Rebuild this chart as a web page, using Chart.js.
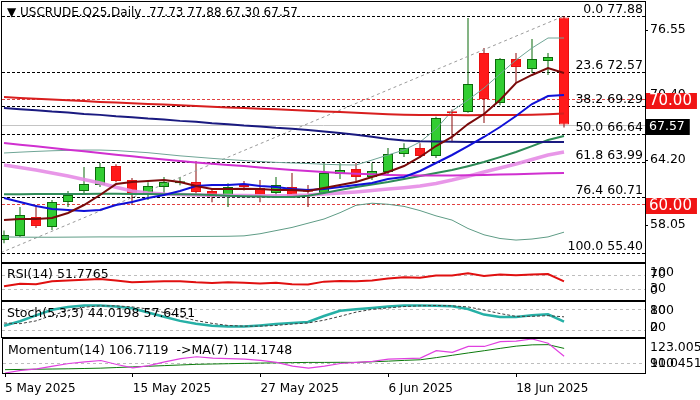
<!DOCTYPE html>
<html>
<head>
<meta charset="utf-8">
<script src="https://cdn.jsdelivr.net/npm/chart.js@4.4.1/dist/chart.umd.min.js"></script>
<style>
  html, body { margin: 0; padding: 0; background: #fff; }
  #wrap { position: relative; width: 700px; height: 400px; overflow: hidden; }
  .pane { position: absolute; left: 0; width: 700px; }
</style>
</head>
<body>
<div id="wrap">
  <div class="pane" style="top:0;height:263px"><canvas id="cMain"></canvas></div>
  <div class="pane" style="top:263px;height:38px"><canvas id="cRsi"></canvas></div>
  <div class="pane" style="top:301px;height:37px"><canvas id="cStoch"></canvas></div>
  <div class="pane" style="top:338px;height:62px"><canvas id="cMom"></canvas></div>
</div>
<script>
// daily bars, 5 May 2025 .. 23 Jun 2025
const dates = ["5 May 2025", "6 May 2025", "7 May 2025", "8 May 2025", "9 May 2025", "12 May 2025",
  "13 May 2025", "14 May 2025", "15 May 2025", "16 May 2025", "19 May 2025", "20 May 2025",
  "21 May 2025", "22 May 2025", "23 May 2025", "26 May 2025", "27 May 2025", "28 May 2025",
  "29 May 2025", "30 May 2025", "2 Jun 2025", "3 Jun 2025", "4 Jun 2025", "5 Jun 2025",
  "6 Jun 2025", "9 Jun 2025", "10 Jun 2025", "11 Jun 2025", "12 Jun 2025", "13 Jun 2025",
  "16 Jun 2025", "17 Jun 2025", "18 Jun 2025", "19 Jun 2025", "20 Jun 2025", "23 Jun 2025"];
const dateTicks = [0, 8, 16, 24, 32];

const opens  = [56.61, 56.99, 58.79, 57.84, 60.22, 61.26, 61.83, 63.63, 62.31, 61.02, 61.64, 62.00,
  62.11, 61.26, 60.69, 61.75, 61.55, 61.07, 61.64, 61.35, 61.07, 62.87, 63.35, 62.59,
  63.06, 64.77, 65.34, 64.58, 68.75, 68.76, 74.37, 69.62, 73.80, 72.85, 73.61, 77.73];
const highs  = [57.50, 59.74, 59.93, 60.40, 61.26, 63.54, 63.92, 63.80, 62.50, 62.10, 62.60, 62.60,
  64.11, 61.45, 62.00, 62.20, 62.30, 62.60, 62.97, 61.83, 63.92, 63.92, 63.92, 63.92,
  65.34, 65.80, 65.80, 68.30, 69.00, 77.69, 74.84, 73.90, 74.37, 75.70, 74.37, 77.88];
const lows   = [56.30, 56.90, 57.75, 57.55, 59.74, 60.97, 61.64, 62.10, 59.93, 60.40, 60.90, 61.80,
  61.00, 60.20, 59.74, 61.30, 60.20, 60.70, 60.60, 59.74, 61.00, 62.40, 62.10, 62.30,
  62.80, 64.50, 64.40, 64.40, 65.90, 68.70, 67.72, 69.40, 71.52, 72.47, 72.28, 67.30];
const closes = [57.08, 58.98, 57.94, 60.22, 60.88, 61.92, 63.54, 62.21, 61.07, 61.74, 62.11, 62.15,
  61.17, 60.69, 61.64, 61.65, 60.83, 61.83, 60.65, 61.20, 62.97, 63.25, 62.59, 63.16,
  64.77, 65.34, 64.58, 68.19, 68.65, 71.42, 70.00, 73.80, 73.04, 73.80, 73.99, 67.57];

// moving averages on the price pane
const maMaroon = [58.51, 58.60, 58.60, 58.70, 59.17, 59.93, 60.88, 61.92, 62.11, 62.21, 62.30, 62.11,
  61.73, 61.45, 61.45, 61.47, 61.45, 61.36, 61.36, 61.26, 61.55, 61.83, 62.11, 62.59,
  63.06, 63.63, 64.49, 65.53, 66.39, 67.62, 68.57, 69.90, 71.52, 72.28, 72.94, 72.47];
const maBlue = [60.60, 60.22, 59.84, 59.55, 59.46, 59.36, 59.46, 59.93, 60.22, 60.60, 60.88, 61.26,
  61.73, 61.83, 61.83, 61.92, 61.73, 61.64, 61.45, 61.36, 61.45, 61.64, 61.83, 62.02,
  62.40, 62.59, 63.16, 63.92, 64.68, 65.53, 66.39, 67.34, 68.38, 69.52, 70.28, 70.38];
const maNavy = [69.14, 69.02, 68.93, 68.80, 68.71, 68.58, 68.49, 68.36, 68.27, 68.14, 68.05, 67.92,
  67.83, 67.70, 67.61, 67.48, 67.39, 67.26, 67.17, 67.05, 66.90, 66.76, 66.60, 66.41,
  66.21, 66.06, 65.98, 65.95, 65.93, 65.92, 65.92, 65.91, 65.92, 65.92, 65.91, 65.92];
const maRed = [70.19, 70.10, 70.02, 69.95, 69.88, 69.80, 69.72, 69.66, 69.60, 69.53, 69.47, 69.40,
  69.33, 69.26, 69.20, 69.14, 69.08, 69.02, 68.95, 68.88, 68.82, 68.76, 68.70, 68.62,
  68.55, 68.50, 68.48, 68.47, 68.47, 68.46, 68.47, 68.48, 68.48, 68.50, 68.55, 68.62];
const maMagenta = [65.82, 65.66, 65.50, 65.34, 65.18, 65.03, 64.87, 64.71, 64.55, 64.39, 64.25, 64.10,
  63.96, 63.85, 63.74, 63.63, 63.50, 63.38, 63.25, 63.15, 63.06, 62.97, 62.90, 62.84,
  62.78, 62.75, 62.73, 62.73, 62.73, 62.75, 62.78, 62.82, 62.86, 62.90, 62.94, 62.97];
const maPink = [63.73, 63.50, 63.25, 62.97, 62.68, 62.35, 62.02, 61.62, 61.26, 61.08, 60.97, 60.92,
  60.88, 60.85, 60.84, 60.83, 60.82, 60.82, 60.83, 60.88, 60.97, 61.06, 61.17, 61.30,
  61.45, 61.58, 61.73, 61.98, 62.30, 62.66, 63.06, 63.44, 63.82, 64.25, 64.68, 64.96];
const maGreen = [60.95, 60.96, 60.97, 60.97, 60.98, 60.98, 60.99, 60.99, 60.98, 60.97, 60.96, 60.95,
  60.93, 60.88, 60.82, 60.77, 60.73, 60.70, 60.69, 60.80, 61.07, 61.35, 61.64, 61.88,
  62.11, 62.40, 62.68, 62.96, 63.25, 63.62, 64.01, 64.48, 64.96, 65.52, 66.10, 66.48];
const bandUpper = [64.87, 64.95, 65.02, 65.08, 65.12, 65.15, 65.15, 65.10, 65.00, 64.90, 64.75, 64.60,
  64.48, 64.36, 64.25, 64.15, 64.06, 63.98, 63.92, 63.87, 63.80, 63.75, 63.73, 64.20,
  64.68, 65.15, 65.91, 67.15, 68.86, 69.90, 71.04, 72.37, 73.70, 74.84, 75.79, 75.79];
const bandLower = [56.90, 56.88, 56.87, 56.87, 56.88, 56.89, 56.90, 56.90, 56.90, 56.91, 56.92, 56.93,
  56.94, 56.95, 56.96, 57.00, 57.20, 57.50, 57.80, 58.20, 58.60, 59.20, 59.90, 60.10,
  60.00, 59.80, 59.40, 58.90, 58.50, 57.70, 57.10, 56.75, 56.60, 56.70, 56.90, 57.35];

// fibonacci retracement
const fibRatios = ["0.0", "23.6", "38.2", "50.0", "61.8", "76.4", "100.0"];
const fibLevels = [77.88, 72.57, 69.29, 66.64, 63.99, 60.71, 55.40];
const trendX = [-0.2, 35];
const trendY = [55.40, 77.88];
const redLevels = [70.00, 60.00];
const priceTicks = [76.55, 70.40, 64.20, 58.05];

// indicators
const rsi = [38, 45, 44, 52, 54, 56, 58, 54, 49, 51, 52, 52, 49, 47, 49, 48, 46, 48,
  44, 43, 51, 53, 52, 54, 60, 63, 62, 68, 68, 74, 67, 71, 69, 71, 72, 51.7765];
const stochK = [32, 45, 62, 78, 86, 90, 90, 87, 82, 70, 58, 46, 38, 32, 30, 30, 33, 37,
  40, 43, 60, 75, 79, 83, 87, 90, 90, 89, 88, 80, 64, 57, 57, 62, 65, 44.0198];
const stochD = [40, 38, 46, 62, 75, 85, 89, 89, 86, 80, 70, 58, 47, 39, 33, 31, 31, 33,
  37, 40, 48, 59, 71, 79, 83, 87, 89, 90, 89, 86, 77, 67, 59, 59, 61, 57.6451];
const momentum = [91.04519, 93.5, 95, 97.5, 100, 101.5, 102.8, 99, 95.8, 98, 101.5, 104.5,
  106.3, 105, 104.5, 104, 103, 101, 97.5, 95.6, 97.5, 100, 101, 102,
  104, 104.5, 105, 112, 110.5, 116, 116, 120.5, 121, 123.005, 119, 106.7119];
const momentumMA = [94.2, 94.4, 94.6, 94.8, 95.0, 95.3, 95.6, 96.2, 96.8, 97.4, 98.0, 98.6,
  99.2, 99.5, 99.8, 100.1, 100.4, 100.6, 100.8, 101.0, 101.0, 101.1, 101.0, 101.6,
  102.2, 102.9, 103.5, 105.5, 107.7, 109.9, 112.0, 114.2, 116.3, 117.5, 117.7, 114.1748];

const idx = closes.map((c, i) => i);
const last = closes.length - 1;
const XMIN = -0.125, XMAX = 40.0625;
const FONT = "12.5px 'DejaVu Sans', sans-serif";

const pts = arr => idx.map(i => ({ x: i, y: arr[i] }));
const line = (arr, color, width, extra) => Object.assign({
  type: 'line', data: pts(arr), borderColor: color, borderWidth: width,
  pointRadius: 0, tension: 0, order: 1, clip: 0
}, extra || {});

// frame, level lines, labels for each pane
const panelPlugin = {
  id: 'panel',
  beforeDatasetsDraw(chart, args, opts) {
    const { ctx, chartArea: a } = chart;
    const ys = chart.scales.y;
    ctx.save();
    ctx.beginPath();
    ctx.rect(a.left, a.top, a.right - a.left, a.bottom - a.top);
    ctx.clip();
    (opts.levels || []).forEach(l => {
      const py = Math.round(ys.getPixelForValue(l.value)) + 0.5;
      ctx.strokeStyle = l.color;
      ctx.lineWidth = 1;
      ctx.setLineDash(l.dash || []);
      ctx.beginPath();
      ctx.moveTo(a.left, py);
      ctx.lineTo(a.right, py);
      ctx.stroke();
    });
    ctx.restore();
  },
  afterDatasetsDraw(chart, args, opts) {
    const { ctx, chartArea: a } = chart;
    const ys = chart.scales.y;
    ctx.save();
    ctx.fillStyle = '#000';
    ctx.font = FONT;

    // fib texts
    ctx.textAlign = 'right';
    ctx.textBaseline = 'alphabetic';
    (opts.levelTexts || []).forEach(t => {
      ctx.fillText(t.text, a.right - 2, ys.getPixelForValue(t.value) - 3);
    });

    // frame
    ctx.strokeStyle = '#000';
    ctx.lineWidth = 1;
    ctx.setLineDash([]);
    ctx.strokeRect(a.left - 0.5, a.top - 0.5, a.right - a.left + 1, a.bottom - a.top + 1);

    // right axis labels
    ctx.textAlign = 'left';
    ctx.textBaseline = 'middle';
    (opts.axisLabels || []).forEach(t => {
      let py = ys.getPixelForValue(t.value);
      py = Math.min(Math.max(py, a.top + 9), a.bottom - 9);
      ctx.fillText(t.text, a.right + 5, py);
      if (opts.tickMarks) {
        ctx.beginPath();
        ctx.moveTo(a.right, Math.round(py) + 0.5);
        ctx.lineTo(a.right + 3, Math.round(py) + 0.5);
        ctx.stroke();
      }
    });

    // coloured price boxes
    (opts.boxes || []).forEach(b => {
      const py = ys.getPixelForValue(b.value) + 2;
      ctx.font = b.size + "px 'DejaVu Sans', sans-serif";
      const w = ctx.measureText(b.text).width;
      ctx.fillStyle = b.bg;
      ctx.fillRect(a.right + 1, Math.round(py - 8), w + 8, 16);
      ctx.fillStyle = '#fff';
      ctx.fillText(b.text, a.right + 4, py);
    });

    // caption
    if (opts.caption) {
      ctx.fillStyle = '#000';
      ctx.font = opts.captionFont || FONT;
      ctx.textAlign = 'left';
      ctx.textBaseline = 'middle';
      ctx.fillText(opts.caption, a.left + 5, a.top + opts.captionDy);
    }
    ctx.restore();
  }
};

const baseOptions = (padBottom, yMin, yMax, panel, xScale) => ({
  responsive: true,
  maintainAspectRatio: false,
  animation: false,
  events: [],
  layout: { padding: { left: 2, right: 55, top: 1, bottom: padBottom } },
  plugins: { legend: { display: false }, tooltip: { enabled: false }, panel: panel },
  scales: {
    x: xScale || { type: 'linear', min: XMIN, max: XMAX, display: false, offset: false },
    y: { type: 'linear', min: yMin, max: yMax, display: false }
  }
});

// ---------- price pane ----------
const bull = idx.map(i => closes[i] >= opens[i]);
const mainOpts = baseOptions(1, 54.518, 79.209, {
  levels: fibLevels.map(v => ({ value: v, color: '#000', dash: [3, 2] }))
    .concat(redLevels.map(v => ({ value: v, color: '#e04040', dash: [3, 2] })))
    .concat([{ value: closes[last], color: '#c4c4c4' }]),
  levelTexts: fibLevels.map((v, k) => ({ value: v, text: fibRatios[k] + ' ' + v.toFixed(2) })),
  axisLabels: priceTicks.map(v => ({ value: v, text: v.toFixed(2) })),
  tickMarks: true,
  boxes: redLevels.map(v => ({ value: v, text: v.toFixed(2), bg: '#f01414', size: 15 }))
    .concat([{ value: closes[last], text: closes[last].toFixed(2), bg: '#000', size: 12.5 }]),
  caption: '\u25BC USCRUDE.Q25,Daily  ' + [opens[last], highs[last], lows[last], closes[last]].map(v => v.toFixed(2)).join(' '),
  captionFont: "12px 'DejaVu Sans', sans-serif",
  captionDy: 11
});
mainOpts.layout.padding.top = 2;

new Chart(document.getElementById('cMain'), {
  type: 'bar',
  data: {
    datasets: [
      line(maPink, 'rgba(230,140,230,0.9)', 3.5, { order: 5 }),
      line(maMagenta, '#d030d0', 2, { order: 4 }),
      line(maGreen, '#2e8b57', 2, { order: 4 }),
      line(maRed, '#d81e1e', 2, { order: 4 }),
      line(maNavy, '#1a1a80', 2, { order: 3 }),
      line(maBlue, '#1010d8', 2, { order: 2 }),
      line(maMaroon, '#7a0a0a', 2, { order: 1 }),
      line(bandUpper, '#6fa596', 1, { order: 6 }),
      line(bandLower, '#5f9c86', 1, { order: 6 }),
      {
        type: 'line', data: trendX.map((x, k) => ({ x: x, y: trendY[k] })),
        borderColor: '#9a9a9a', borderWidth: 1, borderDash: [3, 3],
        pointRadius: 0, order: 7, clip: 0
      },
      {
        type: 'bar', data: idx.map(i => ({ x: i, y: [lows[i], highs[i]] })),
        backgroundColor: bull.map(b => b ? '#0b6b0b' : '#8a0808'),
        barThickness: 1, grouped: false, order: 21, clip: 0, inflateAmount: 0
      },
      {
        type: 'bar', data: idx.map(i => ({ x: i, y: [opens[i], closes[i]] })),
        backgroundColor: bull.map(b => b ? '#32cd32' : '#ff1a1a'),
        borderColor: bull.map(b => b ? '#0b6b0b' : '#e81010'),
        borderWidth: 1, borderSkipped: false, barThickness: 10, minBarLength: 2,
        grouped: false, order: 20, clip: 0, inflateAmount: 0
      }
    ]
  },
  options: mainOpts,
  plugins: [panelPlugin]
});

// ---------- RSI ----------
new Chart(document.getElementById('cRsi'), {
  type: 'line',
  data: { datasets: [line(rsi, '#e01010', 2)] },
  options: baseOptions(1, 0, 100, {
    levels: [70, 30].map(v => ({ value: v, color: '#bdbdbd', dash: [3, 3] })),
    axisLabels: [100, 70, 30, 0].map(v => ({ value: v, text: String(v) })),
    caption: 'RSI(14) ' + rsi[last].toFixed(4),
    captionDy: 11
  }),
  plugins: [panelPlugin]
});

// ---------- Stochastic ----------
new Chart(document.getElementById('cStoch'), {
  type: 'line',
  data: {
    datasets: [
      line(stochD, '#404040', 1, { borderDash: [3, 2], order: 1 }),
      line(stochK, '#26b0a6', 2.5, { order: 2 })
    ]
  },
  options: baseOptions(1, 0, 100, {
    levels: [80, 20].map(v => ({ value: v, color: '#bdbdbd', dash: [3, 3] })),
    axisLabels: [100, 80, 20, 0].map(v => ({ value: v, text: String(v) })),
    caption: 'Stoch(5,3,3) ' + stochK[last].toFixed(4) + ' ' + stochD[last].toFixed(4),
    captionDy: 12
  }),
  plugins: [panelPlugin]
});

// ---------- Momentum ----------
const momMin = Math.min(...momentum), momMax = Math.max(...momentum);
new Chart(document.getElementById('cMom'), {
  type: 'line',
  data: {
    datasets: [
      line(momentumMA, '#0b7a0b', 1, { order: 2 }),
      line(momentum, '#e040e0', 1.2, { order: 1 })
    ]
  },
  options: baseOptions(0, momMin, momMax, {
    levels: [{ value: 100, color: '#bdbdbd', dash: [3, 3] }],
    axisLabels: [momMax.toFixed(3), '100', momMin.toFixed(5)].map(t => ({ value: Number(t), text: t })),
    caption: 'Momentum(14) ' + momentum[last].toFixed(4) + '  ->MA(7) ' + momentumMA[last].toFixed(4),
    captionDy: 12
  }, {
    type: 'linear', min: XMIN, max: XMAX, offset: false, position: 'bottom',
    afterBuildTicks: s => { s.ticks = dateTicks.map(v => ({ value: v })); },
    afterFit: s => { s.height = 27; },
    ticks: {
      autoSkip: false, maxRotation: 0, align: 'start', padding: 5, color: '#000',
      font: { family: 'DejaVu Sans', size: 12 },
      callback: v => dates[v]
    },
    grid: { display: true, drawOnChartArea: false, drawTicks: true, tickLength: 4, color: '#000' },
    border: { display: false }
  }),
  plugins: [panelPlugin]
});
</script>
</body>
</html>
